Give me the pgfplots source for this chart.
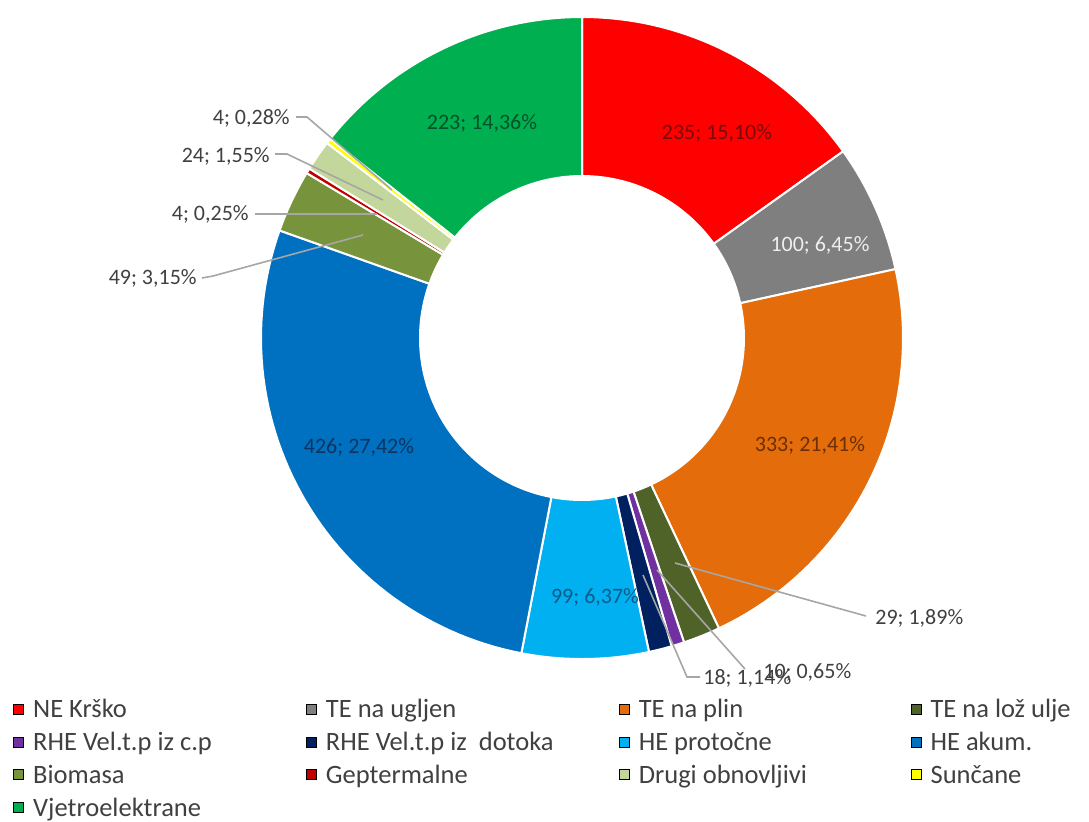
\documentclass[border=0pt]{standalone}
\usepackage{pgfplots}
\pgfplotsset{compat=1.18}
\usepackage{pgfplotstable}
\usepackage{fontspec}
\setmainfont{Carlito}

\definecolor{cNE}{HTML}{FF0000}
\definecolor{cUg}{HTML}{7F7F7F}
\definecolor{cPl}{HTML}{E46C0A}
\definecolor{cLz}{HTML}{4F6228}
\definecolor{cRc}{HTML}{7030A0}
\definecolor{cRd}{HTML}{002060}
\definecolor{cHp}{HTML}{00B0F0}
\definecolor{cHa}{HTML}{0070C0}
\definecolor{cBi}{HTML}{77933C}
\definecolor{cGe}{HTML}{C00000}
\definecolor{cDr}{HTML}{C3D69B}
\definecolor{cSu}{HTML}{FFFF00}
\definecolor{cVj}{HTML}{00B050}
\definecolor{lblgray}{HTML}{404040}
\definecolor{leader}{HTML}{A6A6A6}
\definecolor{tNE}{HTML}{7A0A0A}
\definecolor{tVj}{HTML}{00522A}
\definecolor{tPl}{HTML}{6B2F05}
\definecolor{tHa}{HTML}{0B3560}
\definecolor{tHp}{HTML}{0B5C8C}
\definecolor{tUg}{HTML}{EEEEEE}

\tikzset{lbl/.style={font=\fontsize{11}{13}\selectfont, inner sep=0pt}}

\pgfplotstableread[col sep=comma]{
source,value
NE Krško,235
TE na ugljen,100
TE na plin,333
TE na lož ulje,29
RHE Vel.t.p iz c.p,10
RHE Vel.t.p iz dotoka,18
HE protočne,99
HE akum.,426
Biomasa,49
Geptermalne,4
Drugi obnovljivi,24
Sunčane,4
Vjetroelektrane,223
}\energy

\def\total{0}
\pgfplotsforeachungrouped \i in {0,...,12}{%
  \pgfplotstablegetelem{\i}{value}\of\energy
  \pgfmathsetmacro\total{\total+\pgfplotsretval}}
\def\cum{0}
\pgfplotsforeachungrouped \i in {0,...,12}{%
  \pgfplotstablegetelem{\i}{value}\of\energy
  \pgfmathsetmacro\angA{90-\cum/\total*360}%
  \pgfmathsetmacro\cum{\cum+\pgfplotsretval}%
  \pgfmathsetmacro\angB{90-\cum/\total*360}%
  \expandafter\let\csname angA\i\endcsname\angA
  \expandafter\let\csname angB\i\endcsname\angB}

\newcommand\slice[2]{%
  \edef\tmp{\noexpand\addplot[forget plot, fill=#2, draw=white, line width=1pt,
    domain=\csname angB#1\endcsname:\csname angA#1\endcsname, samples=60]}%
  \tmp ({582+321*cos(x)},{338-321*sin(x)}) -- (axis cs:582,338) -- cycle;}

\begin{document}
\begin{tikzpicture}
\begin{axis}[
  width=544.5pt, height=410.5pt, scale only axis,
  xmin=0, xmax=1089, ymin=0, ymax=821, y dir=reverse,
  hide axis, clip=false,
  legend columns=4, legend cell align=left,
  legend image code/.code={\fill[#1] (0pt,-2.5pt) rectangle (5pt,2.5pt);},
  legend style={at={(axis cs:13,697.5)}, anchor=north west, draw=none, fill=none,
    inner sep=0pt, row sep=4.85pt, font=\fontsize{13.25}{15}\selectfont, text=lblgray,
    nodes={inner sep=0pt, text height=10pt, text depth=1.5pt},
    /tikz/every odd column/.append style={column sep=4.5pt},
    /tikz/every even column/.append style={column sep=0pt}},
]
\path (axis cs:0,0) rectangle (axis cs:1089,821);
\slice{0}{cNE}
\slice{1}{cUg}
\slice{2}{cPl}
\slice{3}{cLz}
\slice{4}{cRc}
\slice{5}{cRd}
\slice{6}{cHp}
\slice{7}{cHa}
\slice{8}{cBi}
\slice{9}{cGe}
\slice{10}{cDr}
\slice{11}{cSu}
\slice{12}{cVj}
\addplot[forget plot, fill=white, draw=none, domain=0:360, samples=180]
  ({582+163*cos(x)},{338-163*sin(x)}) -- cycle;

% leader lines
\addplot[forget plot, leader, line width=0.8pt] coordinates {(675,563) (866,616)};
\addplot[forget plot, leader, line width=0.8pt] coordinates {(657,570) (745,669)};
\addplot[forget plot, leader, line width=0.8pt] coordinates {(643,575) (687,677) (700,677)};
\addplot[forget plot, leader, line width=0.8pt] coordinates {(296,117) (307,117) (392,190)};
\addplot[forget plot, leader, line width=0.8pt] coordinates {(275,154) (287,154) (383,200)};
\addplot[forget plot, leader, line width=0.8pt] coordinates {(255,214) (377,214)};
\addplot[forget plot, leader, line width=0.8pt] coordinates {(202,278) (213,276) (363,235)};

% labels
\node[lbl, text=tNE] at (axis cs:717,133) {235; 15,10\%};
\node[lbl, text=tUg] at (axis cs:820,245) {100; 6,45\%};
\node[lbl, text=tPl] at (axis cs:810,445) {333; 21,41\%};
\node[lbl, text=tHa] at (axis cs:359,447) {426; 27,42\%};
\node[lbl, text=tHp] at (axis cs:595,597) {99; 6,37\%};
\node[lbl, text=tVj] at (axis cs:482,123) {223; 14,36\%};
\node[lbl, text=lblgray, anchor=west] at (axis cs:875,618) {29; 1,89\%};
\node[lbl, text=lblgray, anchor=west] at (axis cs:703,678) {18; 1,14\%};
\node[lbl, text=lblgray, anchor=west] at (axis cs:763,672) {10; 0,65\%};
\node[lbl, text=lblgray, anchor=east] at (axis cs:290,118) {4; 0,28\%};
\node[lbl, text=lblgray, anchor=east] at (axis cs:270,156) {24; 1,55\%};
\node[lbl, text=lblgray, anchor=east] at (axis cs:249,214) {4; 0,25\%};
\node[lbl, text=lblgray, anchor=east] at (axis cs:197,278) {49; 3,15\%};

% legend
\addlegendimage{fill=cNE}\addlegendentry{\makebox[136.5pt][l]{NE Krško}}
\addlegendimage{fill=cUg}\addlegendentry{\makebox[146.5pt][l]{TE na ugljen}}
\addlegendimage{fill=cPl}\addlegendentry{\makebox[136pt][l]{TE na plin}}
\addlegendimage{fill=cLz}\addlegendentry{\makebox[76pt][l]{TE na lož ulje}}
\addlegendimage{fill=cRc}\addlegendentry{\makebox[136.5pt][l]{RHE Vel.t.p iz c.p}}
\addlegendimage{fill=cRd}\addlegendentry{\makebox[146.5pt][l]{RHE Vel.t.p iz\ \ dotoka}}
\addlegendimage{fill=cHp}\addlegendentry{\makebox[136pt][l]{HE protočne}}
\addlegendimage{fill=cHa}\addlegendentry{\makebox[76pt][l]{HE akum.}}
\addlegendimage{fill=cBi}\addlegendentry{\makebox[136.5pt][l]{Biomasa}}
\addlegendimage{fill=cGe}\addlegendentry{\makebox[146.5pt][l]{Geptermalne}}
\addlegendimage{fill=cDr}\addlegendentry{\makebox[136pt][l]{Drugi obnovljivi}}
\addlegendimage{fill=cSu}\addlegendentry{\makebox[76pt][l]{Sunčane}}
\addlegendimage{fill=cVj}\addlegendentry{\makebox[136.5pt][l]{Vjetroelektrane}}
\end{axis}
\end{tikzpicture}
\end{document}
